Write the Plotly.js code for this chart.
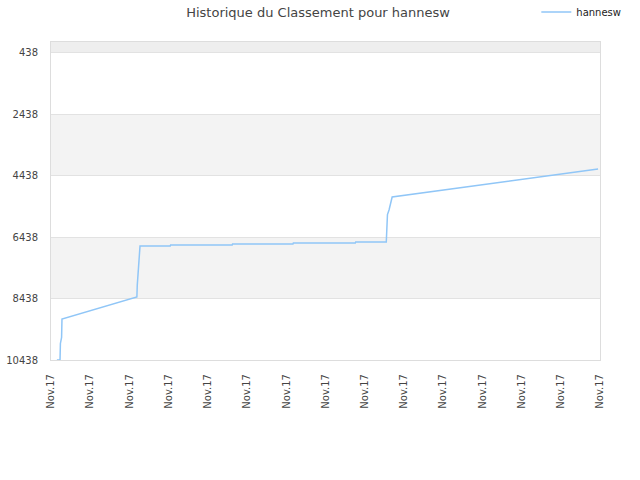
<!DOCTYPE html>
<html>
<head>
<meta charset="utf-8">
<script src="https://cdn.plot.ly/plotly-3.0.1.min.js"></script>
<style>
  body { margin: 0; background: #fff; }
  #graph { width: 640px; height: 480px; }
</style>
</head>
<body>
<div id="graph"></div>
<script>
//time positions (in tick steps) and ranking values
const times = [0.15, 0.23, 0.24, 0.25, 0.27, 0.28, 2.19, 2.20, 2.22, 2.24, 2.27,
  3.04, 3.05, 4.62, 4.63, 6.17, 6.18, 7.76, 7.77, 8.55, 8.56, 8.58, 8.62, 8.66, 8.70, 13.95]
const ranks = [10438, 10438, 9900, 9786, 9700, 9102, 8385, 8000, 7506, 7000, 6724,
  6724, 6691, 6691, 6659, 6659, 6626, 6626, 6594, 6594, 6200, 5700, 5551, 5300, 5128, 4216]

//tick labels
const xTickVals = [0, 1, 2, 3, 4, 5, 6, 7, 8, 9, 10, 11, 12, 13, 14]
const xTickText = xTickVals.map(() => 'Nov.17')
const yTickVals = [438, 2438, 4438, 6438, 8438, 10438]
const yTickText = yTickVals.map(v => String(v))

const font = 'DejaVu Sans, Verdana, sans-serif'

//background bands between gridlines
const bands = [
  {y0: 80, y1: 438, color: '#eeeeee'},
  {y0: 2438, y1: 4438, color: '#f3f3f3'},
  {y0: 6438, y1: 8438, color: '#f3f3f3'}
]
const shapes = bands.map(b => ({
  type: 'rect', xref: 'paper', yref: 'y',
  x0: 0, x1: 1, y0: b.y0, y1: b.y1,
  fillcolor: b.color, line: {width: 0}, layer: 'below'
}))

const trace = {
  x: times,
  y: ranks,
  type: 'scatter',
  mode: 'lines',
  name: 'hannesw',
  line: {color: '#90c6f7', width: 1.5}
}

const layout = {
  width: 640,
  height: 480,
  font: {family: font, size: 10, color: '#444'},
  title: {
    text: 'Historique du Classement pour hannesw',
    font: {family: font, size: 13, color: '#444'},
    x: 0.497, xref: 'container',
    y: 0.975, yref: 'container', yanchor: 'middle'
  },
  showlegend: true,
  legend: {
    x: 0.884, y: 1.094, xanchor: 'left', yanchor: 'middle',
    font: {family: font, size: 10, color: '#222'},
    bgcolor: 'rgba(0,0,0,0)'
  },
  margin: {t: 42, l: 51, r: 40, b: 120, pad: 0, autoexpand: false},
  paper_bgcolor: '#fff',
  plot_bgcolor: '#fff',
  shapes: shapes,
  xaxis: {
    range: [0, 14],
    tickvals: xTickVals,
    ticktext: xTickText,
    tickangle: -90,
    ticks: 'outside', ticklen: 9, tickcolor: 'rgba(0,0,0,0)',
    showgrid: false,
    zeroline: false,
    showline: true, linecolor: '#dddddd', linewidth: 1, mirror: true,
    tickfont: {family: font, size: 10, color: '#444'}
  },
  yaxis: {
    range: [10438, 80],
    tickvals: yTickVals,
    ticktext: yTickText,
    ticks: 'outside', ticklen: 10, tickcolor: 'rgba(0,0,0,0)',
    showgrid: true, gridcolor: '#e2e2e2',
    zeroline: false,
    showline: true, linecolor: '#dddddd', linewidth: 1, mirror: true,
    tickfont: {family: font, size: 10, color: '#444'}
  }
}

const config = {displayModeBar: false, staticPlot: true}

Plotly.newPlot(document.getElementById('graph'), [trace], layout, config)
</script>
</body>
</html>
